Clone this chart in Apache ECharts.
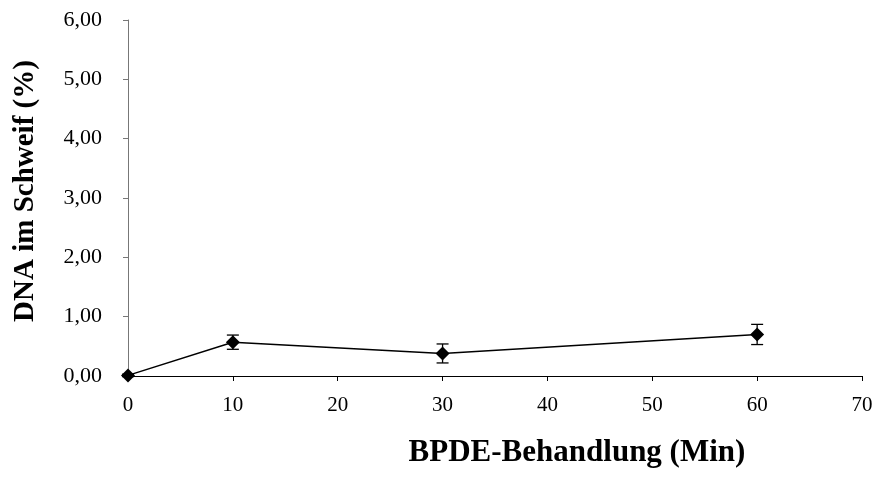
<!DOCTYPE html>
<html><head><meta charset="utf-8">
<script src="https://cdn.jsdelivr.net/npm/echarts@6/dist/echarts.min.js"></script>
<style>html,body{margin:0;padding:0;background:#fff}#c{width:873px;height:489px}</style>
</head><body><div id="c"></div>
<script>
var xValues = [0, 10, 30, 60];
var yValues = [0.01, 0.57, 0.38, 0.70];
var errValues = [0.02, 0.12, 0.16, 0.17];
var yTicks = ['0,00','1,00','2,00','3,00','4,00','5,00','6,00'];
var xTitle = 'BPDE-Behandlung (Min)';
var yTitle = 'DNA im Schweif (%)';

var lineData = xValues.map(function(x,i){return [x, yValues[i]];});
var errData = xValues.map(function(x,i){return [x, yValues[i]-errValues[i], yValues[i]+errValues[i]];});
var font = 'Liberation Serif, Times New Roman, serif';
var chart = echarts.init(document.getElementById('c'));
chart.setOption({
  animation:false,
  grid:{left:128,right:11,top:20,bottom:113,outerBoundsMode:'none',containLabel:false},
  graphic:[
    {type:'text',x:577,y:453,style:{text:xTitle,align:'center',verticalAlign:'middle',
      font:'bold 31px '+font,fill:'#000'}},
    {type:'text',x:26,y:191,rotation:Math.PI/2,style:{text:yTitle,align:'center',verticalAlign:'middle',
      font:'bold 29px '+font,fill:'#000'}}
  ],
  xAxis:{type:'value',min:0,max:70,interval:10,
    axisLine:{show:true,lineStyle:{color:'#000',width:1}},
    axisTick:{show:true,length:5,inside:false,lineStyle:{color:'#000'}},
    splitLine:{show:false},
    axisLabel:{color:'#000',fontFamily:font,fontSize:21,margin:19}},
  yAxis:{type:'value',min:0,max:6,interval:1,
    axisLine:{show:true,lineStyle:{color:'#777',width:1}},
    axisTick:{show:true,length:5,lineStyle:{color:'#777'}},
    splitLine:{show:false},
    axisLabel:{color:'#000',fontFamily:font,fontSize:22,margin:26,
      formatter:function(v){return yTicks[Math.round(v)];}}},
  series:[
    {type:'custom',data:errData,z:3,
      renderItem:function(params,api){
        var x=api.value(0);
        var lo=api.coord([x,api.value(1)]);
        var hi=api.coord([x,api.value(2)]);
        var w=6;
        var st={stroke:'#000',lineWidth:1.3};
        return {type:'group',children:[
          {type:'line',shape:{x1:lo[0],y1:lo[1],x2:hi[0],y2:hi[1]},style:st},
          {type:'line',shape:{x1:lo[0]-w,y1:lo[1],x2:lo[0]+w,y2:lo[1]},style:st},
          {type:'line',shape:{x1:hi[0]-w,y1:hi[1],x2:hi[0]+w,y2:hi[1]},style:st}
        ]};
      }},
    {type:'line',data:lineData,symbol:'diamond',symbolSize:14,z:4,
      lineStyle:{color:'#000',width:1.5},itemStyle:{color:'#000'}}
  ]
});
</script></body></html>
